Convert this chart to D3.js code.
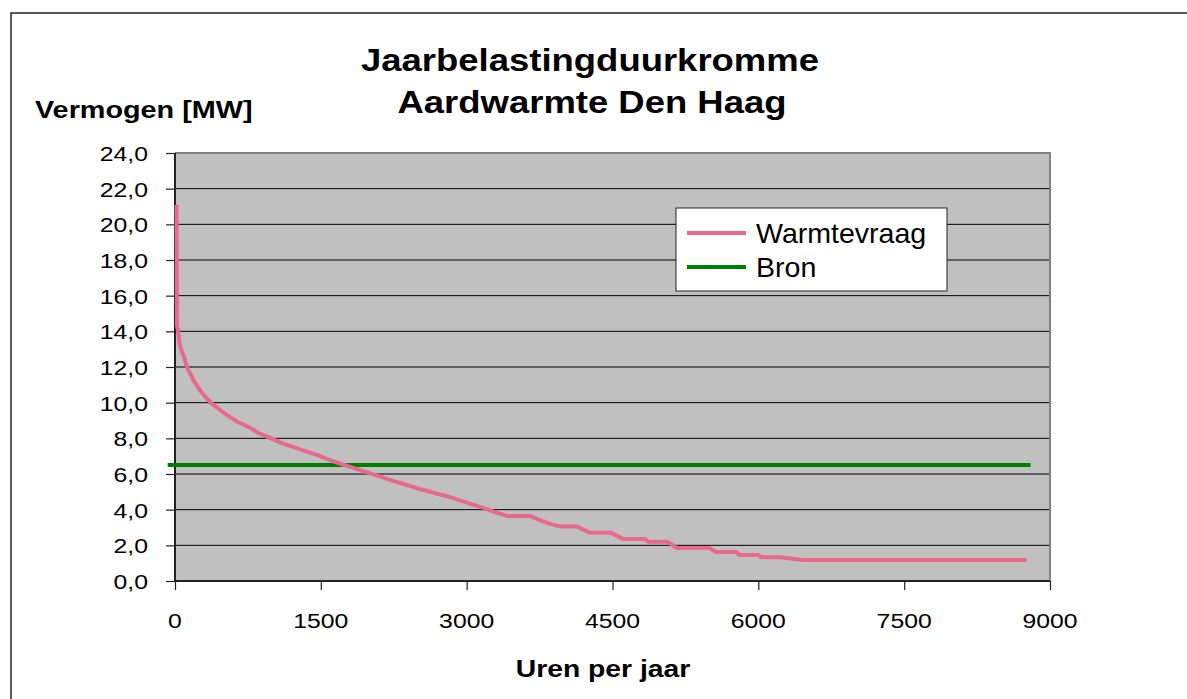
<!DOCTYPE html>
<html lang='nl'>
  <head>
    <meta charset='utf-8'>
    <style type='text/css'>
      body {margin: 0; background-color: #fff;}
      #chart {width: 1187px; height: 699px;}
      text {font-family: 'Liberation Sans', Arial, sans-serif; fill: #000;}
    </style>
  </head>
  <body>
    <div id='chart'>
      <svg width='1187' height='699'></svg>
    </div>
    <script src='https://d3js.org/d3.v7.min.js'></script>
    <script type='text/javascript'>
        // Data
        var titleLines = ["Jaarbelastingduurkromme", "Aardwarmte Den Haag"];
        var yTitle = "Vermogen [MW]";
        var xTitle = "Uren per jaar";
        var seriesNames = ["Warmtevraag", "Bron"];

        var xTicks = [0, 1500, 3000, 4500, 6000, 7500, 9000];
        var yTicks = [0, 2, 4, 6, 8, 10, 12, 14, 16, 18, 20, 22, 24];

        // Warmtevraag (load duration curve): hours / MW
        var vraagUren = [15, 20, 30, 50, 90, 123, 185, 257, 330, 391, 460, 535, 650, 772, 860, 946,
          1030, 1111, 1280, 1461, 1630, 1800, 1970, 2140, 2310, 2490, 2660, 2829, 3000, 3169,
          3300, 3416, 3652, 3760, 3858, 3960, 4135, 4270, 4486, 4610, 4835, 4866, 5062, 5165,
          5494, 5566, 5772, 5803, 5998, 6030, 6224, 6450, 8760];
        var vraagMW = [21.1, 14.3, 14.1, 13.2, 12.6, 12.0, 11.3, 10.7, 10.2, 9.9, 9.6, 9.3, 8.9, 8.6, 8.3, 8.1,
          7.9, 7.7, 7.4, 7.07, 6.7, 6.4, 6.1, 5.8, 5.5, 5.2, 4.95, 4.7, 4.4, 4.1,
          3.85, 3.65, 3.65, 3.4, 3.2, 3.05, 3.05, 2.7, 2.7, 2.35, 2.35, 2.2, 2.2, 1.85,
          1.85, 1.63, 1.63, 1.46, 1.46, 1.33, 1.33, 1.18, 1.18];

        // Bron: constant source power
        var bronUren = [-75, 8800];
        var bronMW = [6.5, 6.5];

        var colors = {vraag: "#e9698c", bron: "#008000"};

        var svg = d3.select("#chart svg");

        // outer chart frame (runs off the page right and bottom)
        svg.append("rect")
          .attr("x", 11).attr("y", 13)
          .attr("width", 1400).attr("height", 900)
          .attr("fill", "none").attr("stroke", "#222").attr("stroke-width", 1.5);

        var plot = {left: 175, top: 153, right: 1050, bottom: 581};

        var x = d3.scaleLinear().domain([0, 9000]).range([plot.left, plot.right]);
        var y = d3.scaleLinear().domain([0, 24]).range([plot.bottom, plot.top]);

        // text helper with horizontal stretch, like the original picture
        function label(txt, px, py, size, weight, anchor, sx) {
          return svg.append("text")
            .attr("transform", "translate(" + px + "," + py + ") scale(" + sx + ",1)")
            .attr("text-anchor", anchor)
            .style("font-size", size + "px")
            .style("font-weight", weight)
            .text(txt);
        }

        // plot background
        svg.append("rect")
          .attr("x", plot.left).attr("y", plot.top)
          .attr("width", plot.right - plot.left).attr("height", plot.bottom - plot.top)
          .attr("fill", "#c0c0c0");

        // gridlines
        svg.append("g").selectAll("line")
          .data(yTicks.filter(function(d){ return d > 0 && d < 24; }))
          .enter().append("line")
          .attr("x1", plot.left).attr("x2", plot.right)
          .attr("y1", function(d){ return y(d); }).attr("y2", function(d){ return y(d); })
          .attr("stroke", "#000").attr("stroke-width", 1);

        // top + right border of plot area
        svg.append("path")
          .attr("d", "M" + plot.left + "," + plot.top + "H" + plot.right + "V" + plot.bottom)
          .attr("fill", "none").attr("stroke", "#808080").attr("stroke-width", 2);

        // axes
        var yAxis = d3.axisLeft(y).tickValues(yTicks).tickSize(9).tickFormat("");
        var xAxis = d3.axisBottom(x).tickValues(xTicks).tickSize(9).tickFormat("");

        var gy = svg.append("g").attr("transform", "translate(" + plot.left + ",0)").call(yAxis);
        var gx = svg.append("g").attr("transform", "translate(0," + plot.bottom + ")").call(xAxis);
        gy.select(".domain").attr("d", "M0," + plot.top + "V" + plot.bottom).attr("stroke", "#222").attr("stroke-width", 2);
        gx.select(".domain").attr("d", "M" + plot.left + ",0H" + plot.right).attr("stroke", "#222").attr("stroke-width", 2);
        svg.selectAll(".tick line").attr("stroke", "#222").attr("stroke-width", 1.2);

        // tick labels
        var fmt = d3.format(".1f");
        yTicks.forEach(function(d) {
          label(fmt(d).replace(".", ","), 148, y(d) + 8, 21, "normal", "end", 1.18);
        });
        xTicks.forEach(function(d) {
          label(d, x(d), 628, 21, "normal", "middle", 1.18);
        });

        // series
        var line = d3.line()
          .x(function(d){ return x(d[0]); })
          .y(function(d){ return y(d[1]); });

        svg.append("path")
          .datum(d3.zip(bronUren, bronMW))
          .attr("d", line)
          .attr("fill", "none").attr("stroke", colors.bron).attr("stroke-width", 4);

        svg.append("path")
          .datum(d3.zip(vraagUren, vraagMW))
          .attr("d", line)
          .attr("fill", "none").attr("stroke", colors.vraag).attr("stroke-width", 4)
          .attr("stroke-linejoin", "round");

        // titles
        label(titleLines[0], 590, 71, 32, "bold", "middle", 1.14);
        label(titleLines[1], 592, 113, 32, "bold", "middle", 1.14);
        label(yTitle, 35, 118, 24, "bold", "start", 1.2);
        label(xTitle, 603, 677, 24, "bold", "middle", 1.18);

        // legend
        var legend = svg.append("g");
        legend.append("rect")
          .attr("x", 676).attr("y", 208).attr("width", 271).attr("height", 83)
          .attr("fill", "#fff").attr("stroke", "#222").attr("stroke-width", 1);
        [colors.vraag, colors.bron].forEach(function(c, i) {
          legend.append("line")
            .attr("x1", 687).attr("x2", 746)
            .attr("y1", 233 + i * 34).attr("y2", 233 + i * 34)
            .attr("stroke", c).attr("stroke-width", 4);
          label(seriesNames[i], 756, 243 + i * 34, 28, "normal", "start", 1.02);
        });
    </script>
  </body>
</html>
